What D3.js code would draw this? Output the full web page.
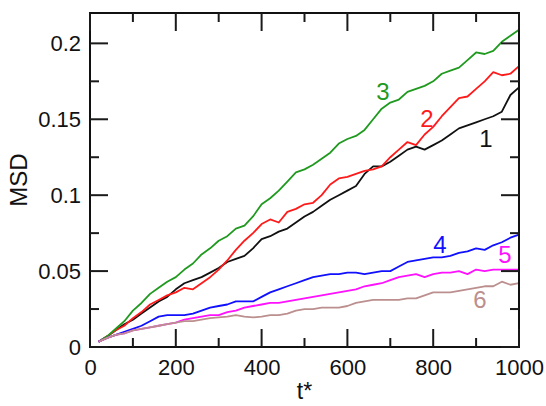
<!DOCTYPE html>
<html>
<head>
<meta charset="utf-8">
<script src="https://cdn.jsdelivr.net/npm/d3@7"></script>
<style>
  body { margin: 0; background: #fff; }
  svg text { font-family: "Liberation Sans", Arial, sans-serif; fill: #111; }
  .axis path { display: none; }
  .axis line { display: none; }
</style>
</head>
<body>
<div class="chart"></div>
<script>
// time points (t*)
var times = [20, 40, 60, 80, 100, 120, 140, 160, 180, 200,
  220, 240, 260, 280, 300, 320, 340, 360, 380, 400,
  420, 440, 460, 480, 500, 520, 540, 560, 580, 600,
  620, 640, 660, 680, 700, 720, 740, 760, 780, 800,
  820, 840, 860, 880, 900, 920, 940, 960, 980, 1000];

var msd1 = [0.0035, 0.007, 0.011, 0.015, 0.018, 0.022, 0.026, 0.030, 0.033, 0.038,
  0.042, 0.044, 0.046, 0.049, 0.052, 0.056, 0.058, 0.060, 0.065, 0.071,
  0.073, 0.076, 0.078, 0.082, 0.086, 0.089, 0.093, 0.097, 0.100, 0.103,
  0.106, 0.114, 0.119, 0.119, 0.122, 0.126, 0.130, 0.132, 0.130, 0.133,
  0.136, 0.140, 0.144, 0.146, 0.148, 0.150, 0.152, 0.155, 0.166, 0.171];
var msd2 = [0.0035, 0.007, 0.011, 0.014, 0.019, 0.023, 0.028, 0.031, 0.034, 0.036,
  0.039, 0.038, 0.042, 0.046, 0.051, 0.057, 0.064, 0.070, 0.075, 0.081,
  0.084, 0.082, 0.089, 0.091, 0.094, 0.095, 0.100, 0.107, 0.111, 0.112,
  0.114, 0.116, 0.117, 0.119, 0.125, 0.130, 0.135, 0.133, 0.140, 0.145,
  0.152, 0.158, 0.164, 0.165, 0.170, 0.175, 0.181, 0.179, 0.180, 0.185];
var msd3 = [0.0035, 0.007, 0.012, 0.017, 0.024, 0.029, 0.035, 0.039, 0.043, 0.046,
  0.051, 0.055, 0.061, 0.065, 0.070, 0.073, 0.078, 0.080, 0.086, 0.094,
  0.098, 0.103, 0.109, 0.115, 0.117, 0.120, 0.124, 0.128, 0.134, 0.137,
  0.139, 0.143, 0.150, 0.157, 0.161, 0.163, 0.168, 0.170, 0.172, 0.175,
  0.180, 0.182, 0.184, 0.189, 0.194, 0.193, 0.195, 0.201, 0.205, 0.209];
var msd4 = [0.0035, 0.006, 0.008, 0.010, 0.012, 0.014, 0.017, 0.020, 0.021, 0.021,
  0.021, 0.022, 0.024, 0.026, 0.027, 0.028, 0.030, 0.030, 0.030, 0.033,
  0.036, 0.038, 0.040, 0.042, 0.044, 0.046, 0.047, 0.048, 0.048, 0.049,
  0.049, 0.048, 0.049, 0.050, 0.050, 0.053, 0.056, 0.057, 0.058, 0.059,
  0.059, 0.060, 0.062, 0.063, 0.065, 0.064, 0.067, 0.069, 0.072, 0.074];
var msd5 = [0.0035, 0.006, 0.008, 0.009, 0.011, 0.012, 0.013, 0.014, 0.015, 0.016,
  0.018, 0.019, 0.020, 0.021, 0.021, 0.023, 0.024, 0.026, 0.027, 0.028,
  0.029, 0.029, 0.030, 0.031, 0.032, 0.033, 0.034, 0.035, 0.036, 0.037,
  0.038, 0.040, 0.041, 0.042, 0.044, 0.046, 0.047, 0.048, 0.046, 0.048,
  0.049, 0.049, 0.050, 0.048, 0.051, 0.050, 0.051, 0.051, 0.051, 0.051];
var msd6 = [0.0035, 0.006, 0.008, 0.009, 0.011, 0.012, 0.013, 0.014, 0.015, 0.016,
  0.017, 0.017, 0.018, 0.019, 0.0195, 0.020, 0.021, 0.020, 0.0195, 0.020,
  0.021, 0.021, 0.022, 0.024, 0.025, 0.025, 0.026, 0.026, 0.026, 0.027,
  0.029, 0.030, 0.031, 0.031, 0.031, 0.031, 0.032, 0.032, 0.034, 0.036,
  0.036, 0.036, 0.037, 0.038, 0.039, 0.040, 0.040, 0.043, 0.041, 0.042];

var seriesNames = ['1', '2', '3', '4', '5', '6'];
var seriesColors = ['#111111', '#ff1a1a', '#1f9a1f', '#1010ff', '#ff10ff', '#bc8f8f'];
var seriesValues = [msd1, msd2, msd3, msd4, msd5, msd6];

var xTicks = [0, 200, 400, 600, 800, 1000];
var yTicks = [0, 0.05, 0.1, 0.15, 0.2];
var xMinor = [100, 300, 500, 700, 900];
var yMinor = [0.025, 0.075, 0.125, 0.175];

var margin = {top: 13, right: 27, bottom: 59, left: 90};
var W = 546, H = 406;
var width = W - margin.left - margin.right;
var height = H - margin.top - margin.bottom;

var svg = d3.select('div.chart').append('svg')
    .attr('width', W)
    .attr('height', H);
var g = svg.append('g')
    .attr('transform', 'translate(' + margin.left + ',' + margin.top + ')');

var x = d3.scaleLinear().domain([0, 1000]).range([0, width]);
var y = d3.scaleLinear().domain([0, 0.22]).range([height, 0]);

// tick labels through d3 axes
g.append('g').attr('class', 'axis').attr('transform', 'translate(0,' + height + ')')
  .call(d3.axisBottom(x).tickValues(xTicks).tickSize(0).tickPadding(12).tickFormat(d3.format('d')));
g.append('g').attr('class', 'axis')
  .call(d3.axisLeft(y).tickValues(yTicks).tickSize(0).tickPadding(9)
    .tickFormat(function(d) { return d === 0 ? '0' : String(+d.toFixed(2)); }));

svg.selectAll('.axis text')
  .style('font-size', '22px')
  .style('font-family', '"Liberation Sans", Arial, sans-serif')
  .attr('fill', '#111');

// lines
var line = d3.line()
    .x(function(d) { return x(d[0]); })
    .y(function(d) { return y(d[1]); });

seriesValues.forEach(function(vals, i) {
  var pts = times.map(function(t, j) { return [t, vals[j]]; });
  g.append('path')
    .datum(pts)
    .attr('fill', 'none')
    .attr('stroke', seriesColors[i])
    .attr('stroke-width', 1.8)
    .attr('stroke-linejoin', 'round')
    .attr('d', line);
});

// frame
g.append('rect')
  .attr('width', width)
  .attr('height', height)
  .attr('fill', 'none')
  .attr('stroke', '#111')
  .attr('stroke-width', 2);

// inward tick marks on all four sides, drawn last
var seg = d3.line();
function addTick(p1, p2) {
  g.append('path')
    .datum([p1, p2])
    .attr('fill', 'none')
    .attr('stroke', '#1a1a1a')
    .attr('stroke-width', 2)
    .attr('d', seg);
}
[[xTicks, 18], [xMinor, 9]].forEach(function(set) {
  set[0].forEach(function(v) {
    addTick([x(v), height], [x(v), height - set[1]]);
    addTick([x(v), 0], [x(v), set[1]]);
  });
});
[[yTicks, 18], [yMinor, 9]].forEach(function(set) {
  set[0].forEach(function(v) {
    addTick([0, y(v)], [set[1], y(v)]);
    addTick([width, y(v)], [width - set[1], y(v)]);
  });
});

// curve labels
var labelPos = [[486, 147], [427, 127], [383, 100], [440, 253], [505, 263], [480, 308]];
seriesNames.forEach(function(name, i) {
  svg.append('text')
    .attr('x', labelPos[i][0])
    .attr('y', labelPos[i][1])
    .attr('text-anchor', 'middle')
    .style('font-size', '24px')
    .style('fill', seriesColors[i])
    .text(name);
});

// axis titles
svg.append('text')
  .attr('x', margin.left + width / 2)
  .attr('y', 399)
  .attr('text-anchor', 'middle')
  .style('font-size', '23px')
  .text('t*');

svg.append('text')
  .attr('transform', 'translate(27,' + (margin.top + height / 2) + ') rotate(-90)')
  .attr('text-anchor', 'middle')
  .style('font-size', '24px')
  .text('MSD');
</script>
</body>
</html>
